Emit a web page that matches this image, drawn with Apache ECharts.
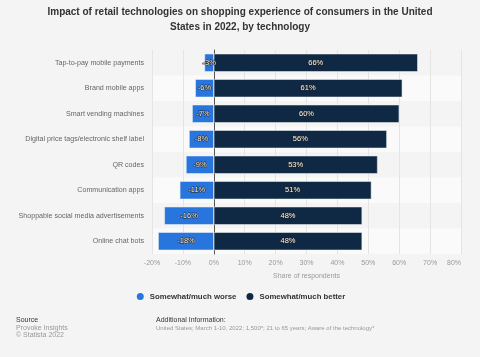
<!DOCTYPE html>
<html><head><meta charset="utf-8">
<script src="https://cdn.jsdelivr.net/npm/echarts@6/dist/echarts.min.js"></script>
<style>html,body{margin:0;padding:0;background:#f4f4f4;}#c{width:480px;height:357px;}</style>
</head><body><div id="c"></div>
<script>
var categories = ["Tap-to-pay mobile payments","Brand mobile apps","Smart vending machines","Digital price tags/electronic shelf label","QR codes","Communication apps","Shoppable social media advertisements","Online chat bots"];
var worse = [-3,-6,-7,-8,-9,-11,-16,-18];
var better = [66,61,60,56,53,51,48,48];
var seriesNames = ["Somewhat/much worse","Somewhat/much better"];
var titleText = "Impact of retail technologies on shopping experience of consumers in the United\nStates in 2022, by technology";

var chart = echarts.init(document.getElementById('c'));
var F = 'Liberation Sans, Arial';
var lbl = {show:true, position:'inside', fontSize:7.5, fontFamily:F, color:'#f4f4f4', textBorderColor:'#222', textBorderWidth:1, formatter:function(p){return p.value+'%';}};
chart.setOption({
  backgroundColor:'#f4f4f4',
  animation:false,
  title:{text:titleText, left:'center', top:0, textStyle:{fontSize:10, fontWeight:'bold', color:'#333', fontFamily:F, lineHeight:15}},
  grid:{left:152, right:19, top:50, bottom:103, containLabel:false},
  xAxis:{type:'value', min:-20, max:80, interval:10,
    axisLabel:{formatter:'{value}%', fontSize:7, color:'#999', margin:6, alignMaxLabel:'right', fontFamily:F},
    splitLine:{lineStyle:{color:'#e4e4e4', width:1}},
    axisLine:{show:false}, axisTick:{show:false},
    name:'Share of respondents', nameLocation:'middle', nameGap:19,
    nameTextStyle:{fontSize:7, color:'#999', fontFamily:F}},
  yAxis:{type:'category', data:categories, inverse:true,
    axisLabel:{fontSize:7.1, color:'#666', margin:8, fontFamily:F},
    axisTick:{show:false},
    axisLine:{show:true, onZero:true, lineStyle:{color:'#555', width:1}},
    splitArea:{show:true, areaStyle:{color:['rgba(0,0,0,0)','#fafafa']}}},
  legend:{top:286, left:'center', itemWidth:9, itemHeight:9, itemGap:8, icon:'circle',
    textStyle:{fontSize:7.8, fontWeight:'bold', color:'#333', fontFamily:F}},
  series:[
    {name:seriesNames[0], type:'bar', data:worse, barWidth:18, barGap:'-100%', z:3,
      itemStyle:{color:'#2876dd', borderColor:'#f4f4f4', borderWidth:0.5}, label:lbl},
    {name:seriesNames[1], type:'bar', data:better, barWidth:18, z:2,
      itemStyle:{color:'#0f2843', borderColor:'#f4f4f4', borderWidth:0.5}, label:lbl}
  ],
  graphic:[
    {type:'text', left:16, top:317, style:{text:'Source', fontSize:7, fill:'#333', fontFamily:F}},
    {type:'text', left:16, top:325, style:{text:'Provoke Insights', fontSize:7, fill:'#999', fontFamily:F}},
    {type:'text', left:16, top:332, style:{text:'\u00a9 Statista 2022', fontSize:7, fill:'#999', fontFamily:F}},
    {type:'text', left:156, top:317, style:{text:'Additional Information:', fontSize:7, fill:'#333', fontFamily:F}},
    {type:'text', left:156, top:325.5, style:{text:'United States; March 1-10, 2022; 1,500*; 21 to 65 years; Aware of the technology*', fontSize:6, fill:'#999', fontFamily:F}}
  ]
});
</script></body></html>
